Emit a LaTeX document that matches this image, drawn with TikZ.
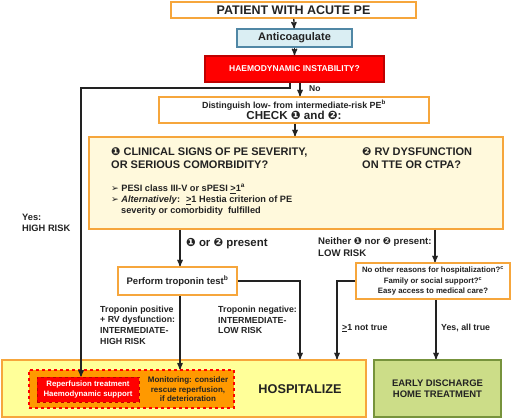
\documentclass[tikz,border=0pt]{standalone}
\usepackage{fontspec}
\setmainfont{Liberation Sans}
\newfontfamily\dingfont{DejaVu Sans}
\usetikzlibrary{arrows}
\definecolor{boxorange}{RGB}{246,166,60}
\definecolor{boxblue}{RGB}{218,238,243}
\definecolor{lineblue}{RGB}{80,135,165}
\definecolor{alarmred}{RGB}{255,0,0}
\definecolor{darkred}{RGB}{192,0,0}
\definecolor{cream}{RGB}{255,249,220}
\definecolor{hospyellow}{RGB}{255,255,153}
\definecolor{monorange}{RGB}{255,153,0}
\definecolor{homegreen}{RGB}{204,221,136}
\definecolor{linegreen}{RGB}{119,147,60}
\definecolor{txtgray}{RGB}{34,34,34}
\newcommand{\one}{{\dingfont ❶}}
\newcommand{\two}{{\dingfont ❷}}
\newcommand{\atleast}{\underline{>}1}
\newcommand{\fs}[1]{\fontsize{#1}{#1}\selectfont\bfseries}
\tikzset{
  flowbox/.style = {draw=boxorange, line width=1.6pt, fill=white, align=center,
    inner sep=0pt, text=txtgray, font=\fs{8.8}},
  blubox/.style = {flowbox, draw=lineblue, fill=boxblue, line width=1.2pt},
  redbox/.style = {flowbox, draw=darkred, fill=alarmred, text=white},
  greenbox/.style = {flowbox, draw=linegreen, fill=homegreen},
  lbl/.style = {inner sep=0pt, align=left, text=txtgray, font=\fs{8.8}},
  arr/.style = {->, >=stealth', line width=1.3pt, draw=txtgray}
}
\begin{document}
\begin{tikzpicture}[x=1pt,y=-1pt]
\useasboundingbox (0,0) rectangle (520,420);
% boxes, top to bottom
\node [flowbox, minimum width=245, minimum height=16, font=\fs{12.5}] (patient)
  at (293.5,10) {PATIENT WITH ACUTE PE};
\node [blubox, minimum width=115, minimum height=18, font=\fs{11}] (anticoag)
  at (294.5,38) {Anticoagulate};
\node [redbox, minimum width=179, minimum height=26, font=\fs{8.5}] (haemo)
  at (294.5,69) {HAEMODYNAMIC INSTABILITY?};
\node [flowbox, minimum width=270, minimum height=26] (dist) at (294,110)
  {{\fs{8.9}Distinguish low- from intermediate-risk PE\textsuperscript{b}}\\[0pt]
   {\fs{11.6}CHECK \one\ and \two:}};
\node [flowbox, fill=cream, minimum width=414, minimum height=92] (signs)
  at (296,183) {};
\node [lbl, anchor=north west, font=\fs{11}] (signsA) at (111,147)
  {\one\ CLINICAL SIGNS OF PE SEVERITY,\\[2pt]OR SERIOUS COMORBIDITY?};
\node [lbl, anchor=north west, font=\fs{11}] (rvA) at (362,147)
  {\two\ RV DYSFUNCTION\\[2pt]ON TTE OR CTPA?};
\node [lbl, anchor=north west, font=\fs{9.2}] (signsB) at (111,184)
  {{\dingfont\mdseries ➢} PESI class III-V or sPESI \atleast\textsuperscript{a}\\[1.8pt]
   {\dingfont\mdseries ➢} \textit{Alternatively}: \ \atleast\ Hestia criterion of PE\\[1.8pt]
   \hspace{10pt}severity or comorbidity \ fulfilled};
\node [flowbox, minimum width=119, minimum height=28, font=\fs{9.5}] (tropo)
  at (177.5,281) {Perform troponin test\textsuperscript{b}};
\node [flowbox, minimum width=154, minimum height=36, font=\fs{7.8}] (quest)
  at (433,281) {No other reasons for hospitalization?\textsuperscript{c}\\[2.5pt]
   Family or social support?\textsuperscript{c}\\[2.5pt]Easy access to medical care?};
\node [flowbox, fill=hospyellow, minimum width=364, minimum height=57] (hosp)
  at (184,388.5) {};
\node [flowbox, draw=alarmred, fill=monorange, dashed, line width=1.2pt,
  minimum width=205, minimum height=38] (watch) at (131.5,389) {};
\node [redbox, draw=darkred, dashed, line width=1pt, minimum width=102,
  minimum height=25, font=\fs{7.8}] (reperf) at (88,389.5)
  {Reperfusion treatment\\[1.5pt]Haemodynamic support};
\node [lbl, align=center, font=\fs{8}] (monit) at (188,389.3)
  {Monitoring: consider\\[1.3pt]rescue reperfusion,\\[1.3pt]if deterioration};
\node [lbl, font=\fs{12.7}] (hospT) at (300,389) {HOSPITALIZE};
\node [greenbox, minimum width=127, minimum height=57, font=\fs{9.5}] (home)
  at (437.5,388.5) {EARLY DISCHARGE\\[1.8pt]HOME TREATMENT};
% labels
\node [lbl, anchor=west, font=\fs{8.5}] (no) at (309,89) {No};
\node [lbl, anchor=west, font=\fs{9.3}] (high) at (22,222.5) {Yes:\\[1.7pt]HIGH RISK};
\node [lbl, anchor=west, font=\fs{11.4}] (pres) at (186,244) {\one\ or \two\ present};
\node [lbl, anchor=west, font=\fs{9.6}] (low) at (318,247)
  {Neither \one\ nor \two\ present:\\[2.3pt]LOW RISK};
\node [lbl, anchor=west] (tpos) at (100,325)
  {Troponin positive\\[1.9pt]+ RV dysfunction:\\[1.9pt]INTERMEDIATE-\\[1.9pt]HIGH RISK};
\node [lbl, anchor=west] (tneg) at (218,320)
  {Troponin negative:\\[1.9pt]INTERMEDIATE-\\[1.9pt]LOW RISK};
\node [lbl, anchor=west] (nottrue) at (342,328) {\atleast\ not true};
\node [lbl, anchor=west] (alltrue) at (441,328) {Yes, all true};
% connectors
\draw [arr] (patient) -- (anticoag);
\draw [arr] (anticoag) -- (haemo);
\draw [arr] (300,0 |- haemo.south) -- (300,0 |- dist.north);
\draw [arr] (290,0 |- haemo.south) -- (290,88) -- (81,88) -- (81,0 |- reperf.north);
\draw [arr] (295,0 |- dist.south) -- (295,0 |- signs.north);
\draw [arr] (180,0 |- signs.south) -- (180,0 |- tropo.north);
\draw [arr] (435,0 |- signs.south) -- (435,0 |- quest.north);
\draw [arr] (tropo.east) -- (300,0 |- tropo.east) -- (300,0 |- hosp.north);
\draw [arr] (180,0 |- tropo.south) -- (180,0 |- watch.north);
\draw [arr] (quest.west) -- (337,0 |- quest.west) -- (337,0 |- hosp.north);
\draw [arr] (436,0 |- quest.south) -- (436,0 |- home.north);
\end{tikzpicture}
\end{document}
